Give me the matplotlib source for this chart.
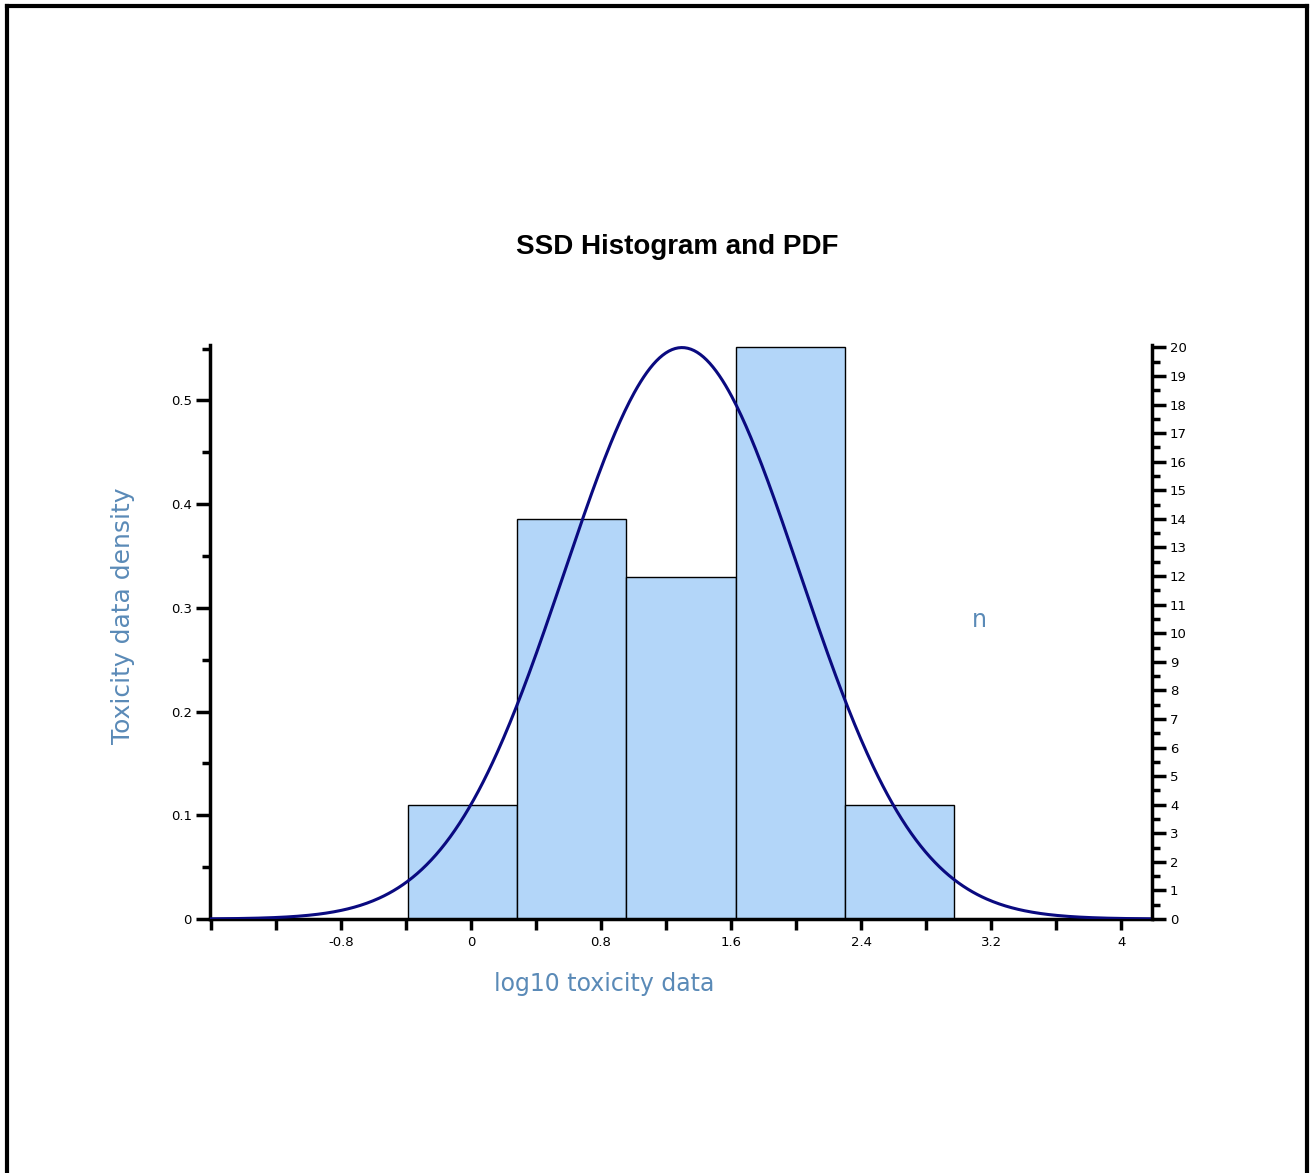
import matplotlib.pyplot as plt
import numpy as np
from matplotlib.lines import Line2D
from matplotlib.ticker import MultipleLocator

# histogram
bin_edges = [-0.388, 0.283, 0.955, 1.628, 2.300, 2.972]
counts = [4, 14, 12, 20, 4]
# fitted normal PDF parameters
pdf_mean = 1.298
pdf_sd = 0.724

x_ticks = [-0.8, 0, 0.8, 1.6, 2.4, 3.2, 4]
x_tick_labels = ['-0.8', '0', '0.8', '1.6', '2.4', '3.2', '4']

label_color = '#5a8ab7'
bar_color = '#b3d6f9'
curve_color = '#0a0a80'

fig = plt.figure(figsize=(13.14, 11.73), dpi=100)
ax = fig.add_axes([210 / 1314, 1 - 919 / 1173, 942 / 1314, 574 / 1173])

edges = np.array(bin_edges)
widths = np.diff(edges)
n_total = sum(counts)
density = np.array(counts) / (n_total * widths)

ax.bar(edges[:-1], density, width=widths, align='edge',
       color=bar_color, edgecolor='black', linewidth=1.0, zorder=2)

xs = np.linspace(-1.61, 4.19, 600)
pdf = np.exp(-0.5 * ((xs - pdf_mean) / pdf_sd) ** 2) / (pdf_sd * np.sqrt(2 * np.pi))
ax.plot(xs, pdf, color=curve_color, linewidth=2.2, zorder=3)

ymax = 0.5535
ax.set_xlim(-1.606, 4.19)
ax.set_ylim(0, ymax)

ax.set_xticks(x_ticks)
ax.set_xticklabels(x_tick_labels)
ax.xaxis.set_minor_locator(MultipleLocator(0.4))
ax.yaxis.set_minor_locator(MultipleLocator(0.05))
ax.set_yticks([0, 0.1, 0.2, 0.3, 0.4, 0.5])
ax.set_yticklabels(['0', '0.1', '0.2', '0.3', '0.4', '0.5'])

for s in ['top', 'right']:
    ax.spines[s].set_visible(False)
for s in ['left', 'bottom']:
    ax.spines[s].set_linewidth(2.5)

ax.tick_params(axis='x', which='both', direction='out', length=8, width=2.5,
               labelsize=9.5, pad=4)
ax.tick_params(axis='y', which='major', direction='out', length=10, width=2.5,
               labelsize=9.5, pad=3)
ax.tick_params(axis='y', which='minor', direction='out', length=6, width=2.5)

ax.set_xlabel('log10 toxicity data', color=label_color, fontsize=17)
ax.xaxis.set_label_coords(0.418, -0.093)
ax.set_ylabel('Toxicity data density', color=label_color, fontsize=18)
ax.yaxis.set_label_coords(-0.0796, 0.528)

# right axis with counts
ax2 = ax.twinx()
ax2.set_ylim(0, ymax * n_total * widths.mean())
ax2.yaxis.set_major_locator(MultipleLocator(1))
ax2.yaxis.set_minor_locator(MultipleLocator(0.5))
for s in ['top', 'left', 'bottom']:
    ax2.spines[s].set_visible(False)
ax2.spines['right'].set_linewidth(2.5)
ax2.tick_params(axis='y', which='major', direction='out', length=10, width=2.5,
                labelsize=9.5, pad=3)
ax2.tick_params(axis='y', which='minor', direction='out', length=6, width=2.5)
ax2.set_ylabel('n', color=label_color, fontsize=17, rotation=0,
               ha='center', va='center')
ax2.yaxis.set_label_coords(0.817, 0.521)

fig.text(677 / 1314, 1 - 247 / 1173, 'SSD Histogram and PDF', ha='center', va='center',
         fontsize=20, fontweight='bold', family='Liberation Sans')

# frame around the picture
fw, fh = 1314, 1173
fig.add_artist(Line2D([7 / fw, 7 / fw], [-0.01, 1 - 6 / fh], color='black', linewidth=3))
fig.add_artist(Line2D([7 / fw, 1307 / fw], [1 - 6 / fh, 1 - 6 / fh], color='black', linewidth=3))
fig.add_artist(Line2D([1307 / fw, 1307 / fw], [-0.01, 1 - 6 / fh], color='black', linewidth=3))

fig.savefig('out.png', dpi=100)
